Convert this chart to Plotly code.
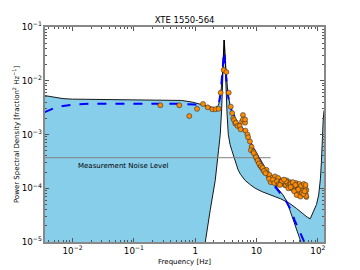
import plotly.graph_objects as go

# ---- data ----
freq_upper = [0.0035, 0.005, 0.007, 0.01, 0.03, 0.1, 0.3, 0.6, 0.9, 1.3, 1.7, 2.1, 2.4, 2.6, 2.75, 2.85, 2.92, 2.96,
              3.0, 3.06, 3.15, 3.3, 3.46, 3.7, 3.97, 4.5, 5.0, 5.5, 6.5, 8, 9.5, 12.4, 16.8, 20.5, 24.4, 34, 45, 56,
              67, 75, 86, 95, 103, 110, 114, 118, 122, 126]
psd_upper = [5.3e-3, 4.9e-3, 4.65e-3, 4.55e-3, 4.5e-3, 4.5e-3, 4.45e-3, 4.3e-3, 4.0e-3, 3.6e-3, 3.25e-3, 3.1e-3,
             3.5e-3, 5.5e-3, 1.1e-2, 2.5e-2, 4.5e-2, 5.7e-2, 4.5e-2, 2.5e-2, 8e-3, 2.5e-3, 1.0e-3, 6.5e-4, 5e-4,
             3.2e-4, 2.2e-4, 1.8e-4, 1.4e-4, 1.15e-4, 1.0e-4, 8.6e-5, 7.4e-5, 6.9e-5, 6.4e-5, 5.3e-5, 4.2e-5,
             3.4e-5, 2.9e-5, 2.7e-5, 3.7e-5, 5e-5, 7.5e-5, 1.5e-4, 3e-4, 9e-4, 1.8e-3, 2.8e-3]

freq_lower = [0.0035, 0.5, 1.0, 1.3, 1.46, 1.76, 2.12, 2.4, 2.56, 2.7, 2.8, 2.9, 2.96, 3.0, 3.08, 3.2, 3.4, 3.7, 4.0,
              4.5, 5, 6, 7, 8, 10, 12.4, 15, 18, 22, 27, 31, 36, 42, 50, 58, 70, 90, 126]
psd_lower = [1e-9, 1e-8, 3e-7, 3e-6, 1e-5, 4e-5, 1.4e-4, 5.1e-4, 1.0e-3, 3e-3, 1e-2, 3e-2, 5.7e-2, 5e-2, 2.5e-2,
             1.2e-2, 6e-3, 3.5e-3, 2.6e-3, 2.0e-3, 1.65e-3, 1.25e-3, 9.5e-4, 7e-4, 4.5e-4, 3e-4, 2.0e-4, 1.4e-4,
             1.0e-4, 7.5e-5, 5.8e-5, 3.6e-5, 2.2e-5, 1.3e-5, 8e-6, 4e-6, 1e-6, 2e-7]

freq_model = [0.0035, 0.005, 0.007, 0.01, 0.02, 0.1, 0.5, 1.0, 1.5, 2.0, 2.4, 2.6, 2.8, 2.95, 3.0, 3.1, 3.3, 3.6,
              4.0, 5.0, 6.0, 7.0, 8.0, 10, 13.6, 17.6, 23, 27, 31, 36, 42, 50, 61, 80, 126]
psd_model = [2.6e-3, 3.1e-3, 3.4e-3, 3.6e-3, 3.75e-3, 3.8e-3, 3.75e-3, 3.6e-3, 3.3e-3, 3.0e-3, 3.5e-3, 6e-3,
             1.8e-2, 3.5e-2, 3.2e-2, 1.6e-2, 7e-3, 3.8e-3, 2.6e-3, 1.7e-3, 1.25e-3, 9.5e-4, 7e-4, 4.2e-4, 2.2e-4,
             1.3e-4, 9e-5, 6.9e-5, 5.5e-5, 4e-5, 2.5e-5, 1.6e-5, 1e-5, 5e-6, 1.5e-6]

obs_freq = [0.27, 0.55, 0.8, 1.07, 1.34, 1.6, 1.9, 2.15, 2.4, 2.6, 2.91, 3.22, 3.52, 3.8, 4.0, 4.17, 4.3, 4.5, 4.6,
            4.9, 5.3, 5.5, 5.8, 6.0, 6.0, 6.5, 6.5, 6.6, 7.1, 7.3, 7.8, 8.3, 8.1, 8.9, 9.5, 10.0, 10.7, 11.3, 12,
            12.8, 13.6, 14.5, 15, 15.8, 16.3, 17, 17.7, 19, 20, 21, 22.5, 24, 26, 27, 29, 31, 33, 35, 37, 37, 42,
            42, 47, 48, 51, 54, 57, 61, 65, 65,
            9.0, 9.8, 10.4, 11.0, 11.8, 12.5, 13.2, 14.0, 16.0, 18.5, 19.5, 21.5, 23, 25, 28, 30, 32, 34, 36, 38,
            39, 40, 41, 43, 44, 45, 46, 49, 50, 52, 53, 55, 56, 58, 59, 60, 62, 63, 64, 44, 47, 50, 53, 56, 59,
            39, 41, 43, 45, 48, 52, 55, 58, 61, 63, 30, 33, 36, 26, 28, 24]
obs_psd = [3.5e-3, 3.5e-3, 2.2e-3, 3.0e-3, 3.7e-3, 3.2e-3, 2.95e-3, 2.95e-3, 3.0e-3, 6.0e-3, 1.58e-2, 1.45e-2,
           6.0e-3, 3.3e-3, 2.5e-3, 2.0e-3, 1.85e-3, 1.6e-3, 1.66e-3, 1.44e-3, 1.45e-3, 1.25e-3, 1.75e-3, 2.3e-3,
           1.9e-3, 1.66e-3, 1.9e-3, 1.18e-3, 1.0e-3, 8.9e-4, 7.4e-4, 5.9e-4, 5.1e-4, 4.8e-4, 4.2e-4, 3.6e-4,
           3.1e-4, 2.7e-4, 2.45e-4, 2.2e-4, 2.0e-4, 2.2e-4, 1.9e-4, 1.66e-4, 1.77e-4, 1.3e-4, 1.55e-4, 1.4e-4,
           1.66e-4, 1.24e-4, 1.55e-4, 1.3e-4, 1.4e-4, 1.24e-4, 1.14e-4, 1.4e-4, 1.07e-4, 1.3e-4, 1.24e-4, 1.0e-4,
           1.1e-4, 9.3e-5, 1.0e-4, 7.5e-5, 8.7e-5, 1.07e-4, 8.1e-5, 1.14e-4, 9.3e-5, 6.9e-5,
           4.5e-4, 3.8e-4, 3.3e-4, 2.9e-4, 2.6e-4, 2.4e-4, 2.1e-4, 1.9e-4, 1.5e-4, 1.45e-4, 1.25e-4, 1.35e-4,
           1.2e-4, 1.25e-4, 1.3e-4, 1.15e-4, 1.25e-4, 1.1e-4, 1.2e-4, 1.05e-4, 1.15e-4, 9.5e-5, 1.2e-4, 1.05e-4,
           8.5e-5, 1.1e-4, 9.0e-5, 1.05e-4, 8.0e-5, 1.0e-4, 9.0e-5, 1.1e-4, 8.5e-5, 1.0e-4, 7.8e-5, 9.5e-5,
           1.05e-4, 8.0e-5, 7.2e-5, 1.25e-4, 1.15e-4, 1.2e-4, 1.1e-4, 9.0e-5, 1.2e-4, 1.3e-4, 8.8e-5, 1.15e-4,
           7.5e-5, 9.5e-5, 7.0e-5, 8.2e-5, 7.8e-5, 8.8e-5, 1.15e-4, 1.35e-4, 1.0e-4, 1.05e-4, 1.35e-4, 1.45e-4,
           1.15e-4]

noise_freq = [0.0035, 17]
noise_psd = [3.7e-4, 3.7e-4]

title_text = "XTE 1550-564"
x_title = "Frequency [Hz]"
y_title = "Power Spectral Density [fraction<sup>2</sup> Hz<sup>−1</sup>]"
noise_label = "Measurement Noise Level"

fig = go.Figure()
fig.add_trace(go.Scatter(x=freq_upper, y=psd_upper, mode="lines",
                         line=dict(color="black", width=0.9), showlegend=False))
fig.add_trace(go.Scatter(x=freq_lower, y=psd_lower, mode="lines", fill="tonexty",
                         fillcolor="#87CEEB", line=dict(color="black", width=0.9), showlegend=False))
fig.add_trace(go.Scatter(x=noise_freq, y=noise_psd, mode="lines",
                         line=dict(color="#808080", width=1), showlegend=False))
fig.add_trace(go.Scatter(x=freq_model, y=psd_model, mode="lines",
                         line=dict(color="#0000FF", width=2, dash="dash"), showlegend=False))
fig.add_trace(go.Scatter(x=obs_freq, y=obs_psd, mode="markers",
                         marker=dict(color="#FF8C00", size=5, line=dict(color="#333", width=0.6)),
                         showlegend=False))

fig.add_annotation(x=-1.18, y=-3.47, xref="x", yref="y", text=noise_label, showarrow=False,
                   xanchor="center", yanchor="top", font=dict(size=7, color="black"))

axis_common = dict(type="log", ticks="inside", ticklen=4, tickcolor="#555", tickwidth=1,
                   showline=True, linecolor="#888", linewidth=1.5, mirror="allticks",
                   showgrid=False, zeroline=False, exponentformat="power", dtick=1, automargin=False,
                   tickfont=dict(size=7, color="black"),
                   minor=dict(ticks="inside", ticklen=2, tickcolor="#555", dtick="D1", showgrid=False))

# the page adds an 8 px body margin, so the margins are offset to compensate
fig.update_layout(
    width=360, height=270,
    margin=dict(l=37, r=44, t=19, b=36),
    paper_bgcolor="white", plot_bgcolor="white",
    font=dict(family="DejaVu Sans", size=7, color="black"),
    title=dict(text=title_text, x=0.4905, xanchor="center", y=0.955, yanchor="middle",
               font=dict(size=8.5, color="black")),
    xaxis=dict(range=[-2.45, 2.1], title=dict(text=x_title, font=dict(size=7), standoff=4), **axis_common),
    yaxis=dict(range=[-5, -1], title=dict(text=y_title, font=dict(size=7), standoff=1), **axis_common),
)

fig.write_html("out.html")
